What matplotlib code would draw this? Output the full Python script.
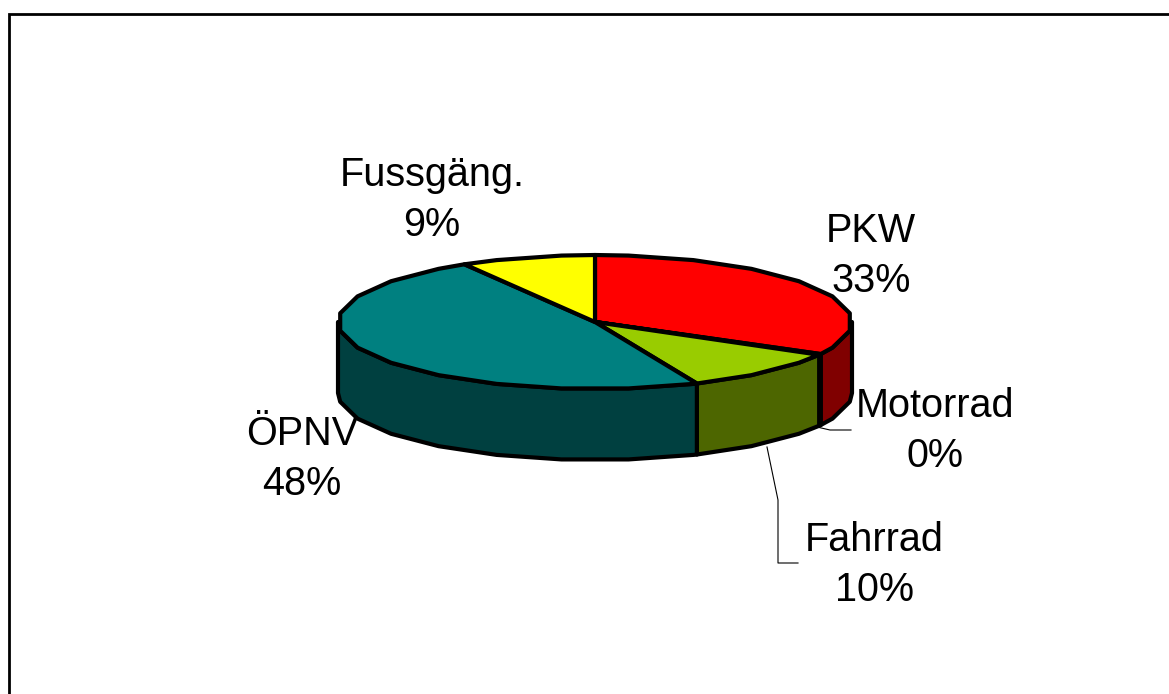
import numpy as np
import matplotlib
matplotlib.use('Agg')
import matplotlib.pyplot as plt

# Werte aus dem Bild
labels = ['PKW', 'Motorrad', 'Fahrrad', 'ÖPNV', 'Fussgäng.']
shares = [33.0, 0.2, 10.4, 48.1, 8.5]
percent_text = ['33%', '0%', '10%', '48%', '9%']
top_colors = ['#ff0000', '#800000', '#99cc00', '#008080', '#ffff00']
side_colors = ['#800000', '#400000', '#4d6600', '#004040', '#808000']
label_x = [871, 935, 874, 302, 432]
label_y = [256, 431, 565, 459, 200]

# Geometrie der Torte in Pixeln
cx, cy = 595, 322
rx, ry = 257, 67
depth = 71
n_facets = 24  # der Rand im Original ist eckig

fig = plt.figure(figsize=(11.69, 6.94), dpi=100)
ax = fig.add_axes([0, 0, 1, 1])
ax.set_xlim(0, 1169)
ax.set_ylim(694, 0)
ax.axis('off')


def rim(a0, a1):
    # Winkel im Uhrzeigersinn ab 12 Uhr
    step = 2 * np.pi / n_facets
    grid = np.arange(step / 2, 2 * np.pi, step)
    inner = grid[(grid > a0) & (grid < a1)]
    t = np.concatenate([[a0], inner, [a1]])
    return cx + rx * np.sin(t), cy - ry * np.cos(t)


edges = np.cumsum([0] + shares) / sum(shares) * 2 * np.pi

# Seitenwand, nur der vordere Teil (90 bis 270 Grad)
for i in range(len(shares)):
    a0 = max(edges[i], np.pi / 2)
    a1 = min(edges[i + 1], 3 * np.pi / 2)
    if a1 <= a0:
        continue
    x, y = rim(a0, a1)
    px = np.concatenate([x, x[::-1]])
    py = np.concatenate([y, y[::-1] + depth])
    ax.fill(px, py, facecolor=side_colors[i], edgecolor='black', lw=3, joinstyle='round', zorder=2)

# Deckel
for i in range(len(shares)):
    x, y = rim(edges[i], edges[i + 1])
    px = np.concatenate([[cx], x])
    py = np.concatenate([[cy], y])
    ax.fill(px, py, facecolor=top_colors[i], edgecolor='black', lw=3, joinstyle='round', zorder=3)

# Führungslinien
ax.plot([817, 830, 851], [427, 430, 430], color='black', lw=0.8, zorder=1)
ax.plot([767, 778, 778, 798], [447, 500, 563, 563], color='black', lw=0.8, zorder=1)

# Rahmen, nur oben und links sichtbar
ax.plot([8.5, 8.5, 1169], [694, 14, 14], color='black', lw=2, solid_joinstyle='miter', zorder=1)

for i in range(len(labels)):
    ax.text(label_x[i], label_y[i], labels[i] + '\n' + percent_text[i], ha='center', va='center',
            fontsize=28.5, family='Liberation Sans', color='black', linespacing=1.42, zorder=4)

fig.savefig('out.png', dpi=100)
